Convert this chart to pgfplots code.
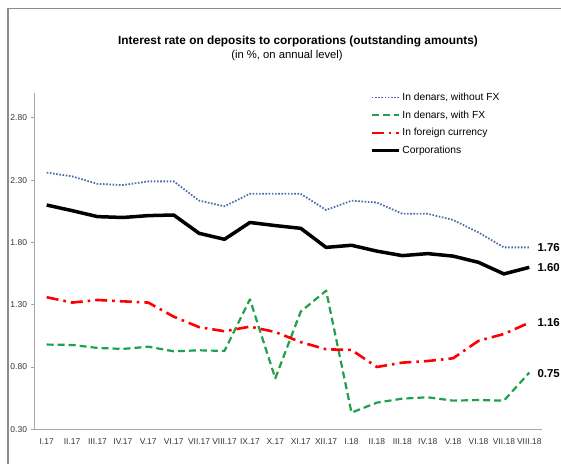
\documentclass[border=0pt]{standalone}
\usepackage{pgfplots}
\pgfplotsset{compat=1.18}
\usepackage{fontspec}
\setmainfont{Liberation Sans}
\definecolor{cblue}{HTML}{4E6DA8}
\definecolor{cgreen}{HTML}{1FA04C}
\definecolor{cred}{HTML}{FF0000}
\definecolor{cframe}{HTML}{8C8C8C}
\definecolor{caxis}{HTML}{A6A6A6}
\begin{document}
\begin{tikzpicture}
\useasboundingbox (0,0) rectangle (561bp,464bp);
\draw[cframe, line width=1.3bp] (8bp,0) -- (8bp,455.3bp) -- (561bp,455.3bp);
\node[font=\fontsize{11.9}{14}\selectfont\bfseries] at (298bp,423bp) {Interest rate on deposits to corporations (outstanding amounts)};
\node[font=\fontsize{11.3}{13}\selectfont] at (287bp,408bp) {(in \%, on annual level)};
\begin{axis}[
  at={(34bp,34.7bp)}, anchor=south west,
  width=508bp, height=336.4bp, scale only axis,
  xmin=-0.5, xmax=19.5, ymin=0.3, ymax=3.0,
  axis x line*=bottom, axis y line*=left,
  axis line style={draw=caxis, line width=0.8bp},
  xtick={0,...,19},
  xticklabels={I.17,II.17,III.17,IV.17,V.17,VI.17,VII.17,VIII.17,IX.17,X.17,XI.17,XII.17,I.18,II.18,III.18,IV.18,V.18,VI.18,VII.18,VIII.18},
  minor xtick={-0.5,0.5,...,19.5},
  xtick style={draw=none},
  minor tick length=4bp,
  minor tick style={draw=caxis, line width=0.8bp},
  ytick={0.3,0.8,1.3,1.8,2.3,2.8},
  ytick style={draw=caxis, line width=0.8bp},
  major tick length=3bp,
  tick align=outside,
  /pgf/number format/assume math mode=true,
  yticklabel style={/pgf/number format/fixed, /pgf/number format/fixed zerofill, /pgf/number format/precision=2, xshift=-0.5bp},
  tick label style={font=\fontsize{8.5}{9.5}\selectfont, text=black!80},
  xticklabel style={yshift=-3bp, inner xsep=0pt},
  legend style={at={(0.661,1.006)}, anchor=north west, draw=none, fill=none,
    font=\fontsize{10.3}{11.5}\selectfont, row sep=4.8bp, inner sep=0pt},
  legend cell align=left,
  legend image code/.code={\draw[#1] (0bp,0bp) -- (27bp,0bp);},
  clip=false,
  line join=round,
]
\addplot[cblue, line width=1.8bp, dash pattern=on 1.6bp off 1.6bp] coordinates {
(0,2.36)(1,2.33)(2,2.27)(3,2.26)(4,2.29)(5,2.29)(6,2.135)(7,2.09)(8,2.19)(9,2.19)
(10,2.19)(11,2.06)(12,2.135)(13,2.12)(14,2.03)(15,2.03)(16,1.98)(17,1.88)(18,1.76)(19,1.76)};
\addlegendentry{In denars, without FX}
\addplot[cgreen, line width=2.2bp, dash pattern=on 7bp off 4bp] coordinates {
(0,0.98)(1,0.977)(2,0.953)(3,0.945)(4,0.963)(5,0.926)(6,0.934)(7,0.929)(8,1.343)(9,0.709)
(10,1.244)(11,1.413)(12,0.434)(13,0.514)(14,0.546)(15,0.557)(16,0.53)(17,0.535)(18,0.53)(19,0.755)};
\addlegendentry{In denars, with FX}
\addplot[cred, line width=2.6bp, dash pattern=on 12bp off 5bp on 2.6bp off 5bp] coordinates {
(0,1.36)(1,1.317)(2,1.338)(3,1.327)(4,1.317)(5,1.204)(6,1.12)(7,1.087)(8,1.124)(9,1.081)
(10,1.00)(11,0.942)(12,0.937)(13,0.80)(14,0.835)(15,0.848)(16,0.87)(17,1.01)(18,1.065)(19,1.156)};
\addlegendentry{In foreign currency}
\addplot[black, line width=3.5bp] coordinates {
(0,2.10)(1,2.055)(2,2.007)(3,2.00)(4,2.015)(5,2.02)(6,1.873)(7,1.825)(8,1.96)(9,1.935)
(10,1.913)(11,1.76)(12,1.777)(13,1.73)(14,1.694)(15,1.71)(16,1.69)(17,1.64)(18,1.547)(19,1.60)};
\addlegendentry{Corporations}
\node[font=\fontsize{11.5}{13}\selectfont\bfseries, anchor=west, inner sep=0pt] at (axis cs:19,1.76) [xshift=8bp] {1.76};
\node[font=\fontsize{11.5}{13}\selectfont\bfseries, anchor=west, inner sep=0pt] at (axis cs:19,1.60) [xshift=8bp] {1.60};
\node[font=\fontsize{11.5}{13}\selectfont\bfseries, anchor=west, inner sep=0pt] at (axis cs:19,1.16) [xshift=8bp] {1.16};
\node[font=\fontsize{11.5}{13}\selectfont\bfseries, anchor=west, inner sep=0pt] at (axis cs:19,0.75) [xshift=8bp] {0.75};
\end{axis}
\end{tikzpicture}
\end{document}
